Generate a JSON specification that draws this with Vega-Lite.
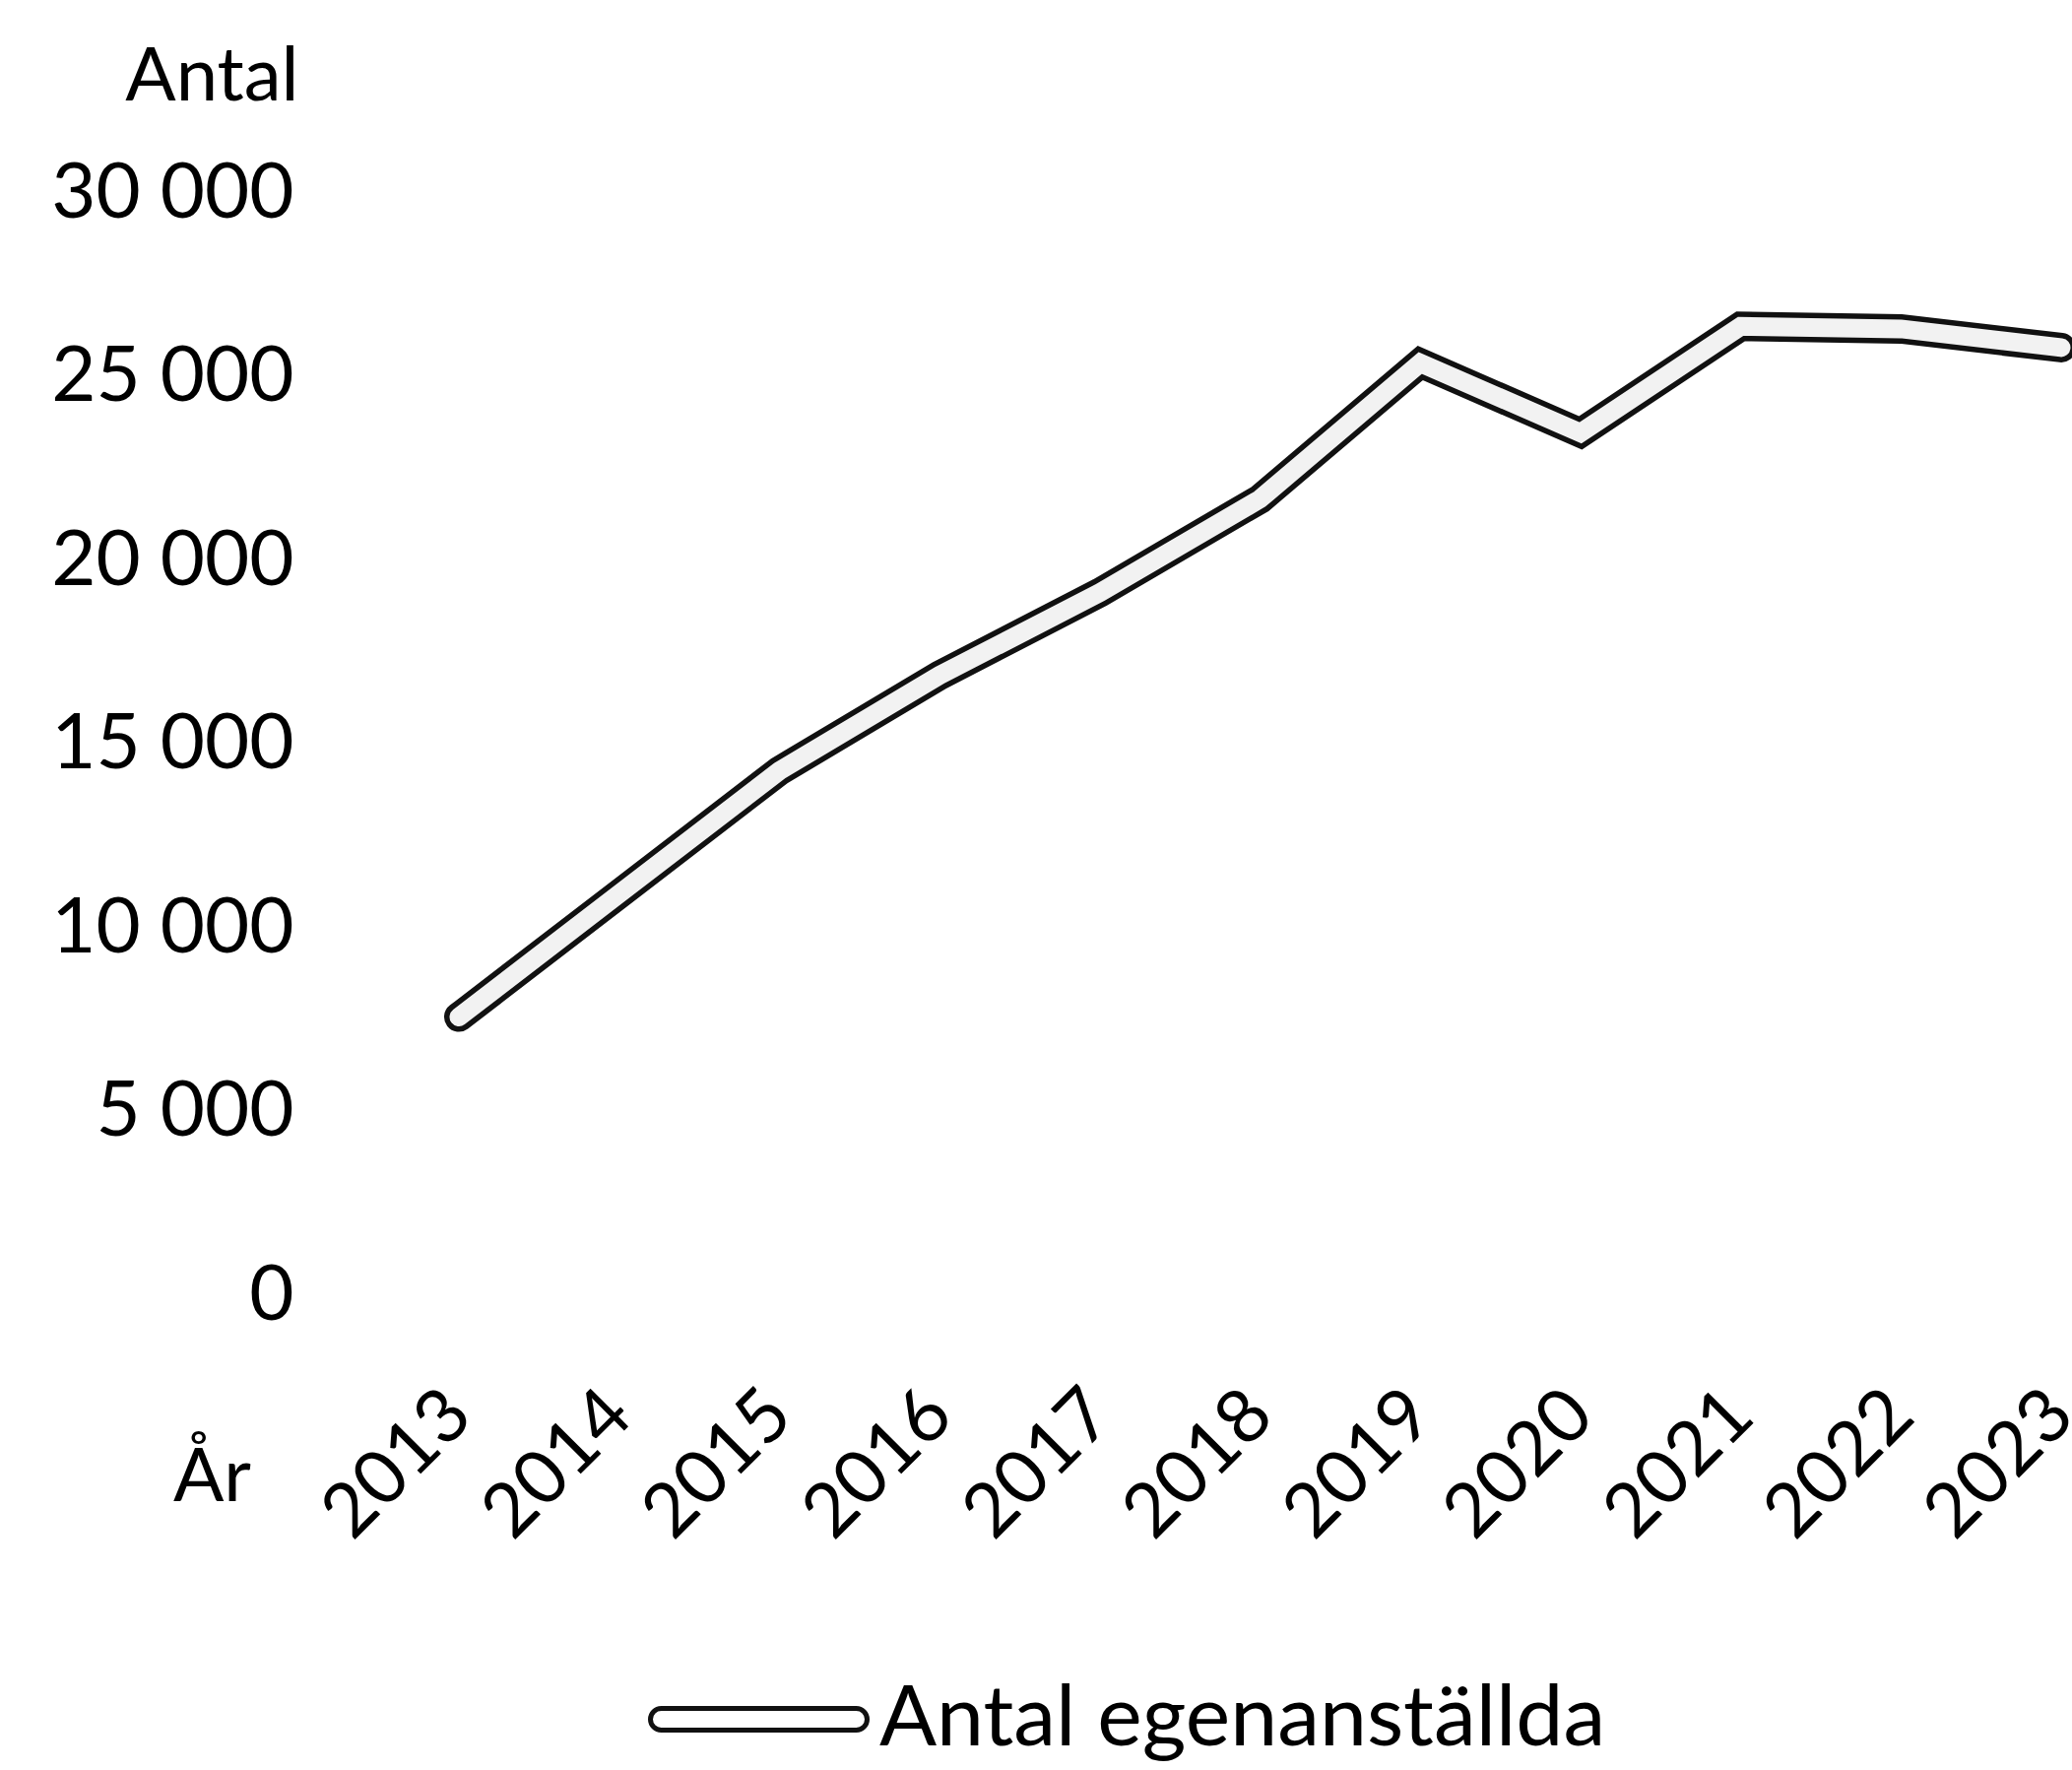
{
  "$schema": "https://vega.github.io/schema/vega-lite/v6.json",
  "width": 1627,
  "height": 1119,
  "autosize": {"type": "none"},
  "padding": {"left": 466, "top": 197, "right": 11, "bottom": 481},
  "background": "white",
  "config": {"view": {"stroke": null}, "font": "Lato"},
  "data": {
    "values": [
      {"year": "2013", "antal": 7600},
      {"year": "2014", "antal": 10950},
      {"year": "2015", "antal": 14300},
      {"year": "2016", "antal": 16900},
      {"year": "2017", "antal": 19150},
      {"year": "2018", "antal": 21700},
      {"year": "2019", "antal": 25400},
      {"year": "2020", "antal": 23500},
      {"year": "2021", "antal": 26400},
      {"year": "2022", "antal": 26330},
      {"year": "2023", "antal": 25820}
    ]
  },
  "encoding": {
    "x": {
      "field": "year",
      "type": "ordinal",
      "scale": {"type": "point", "padding": 0},
      "axis": {
        "title": "År",
        "titleAngle": 0,
        "titleX": -251,
        "titleY": 184,
        "titleAlign": "center",
        "titleBaseline": "middle",
        "titleFontSize": 76,
        "titleFontWeight": "normal",
        "titleColor": "black",
        "labelAngle": -45,
        "labelAlign": "right",
        "labelBaseline": "middle",
        "labelPadding": 108,
        "labelFontSize": 76,
        "labelColor": "black",
        "labelLimit": 400,
        "ticks": false,
        "domain": false,
        "grid": false
      }
    },
    "y": {
      "field": "antal",
      "type": "quantitative",
      "scale": {"domain": [0, 30000]},
      "axis": {
        "title": "Antal",
        "titleAngle": 0,
        "titleAlign": "right",
        "titleBaseline": "middle",
        "titleX": -163,
        "titleY": -119,
        "titleFontSize": 76,
        "titleFontWeight": "normal",
        "titleColor": "black",
        "values": [0, 5000, 10000, 15000, 20000, 25000, 30000],
        "labelExpr": "replace(format(datum.value, ',d'), ',', ' ')",
        "labelFontSize": 78,
        "labelColor": "black",
        "labelLimit": 400,
        "labelPadding": 168,
        "ticks": false,
        "domain": false,
        "grid": false
      }
    }
  },
  "layer": [
    {
      "mark": {"type": "line", "strokeWidth": 30, "strokeCap": "round", "strokeJoin": "miter"},
      "encoding": {
        "color": {
          "datum": "Antal egenanställda",
          "type": "nominal",
          "scale": {"range": ["#111111"]},
          "legend": {
            "orient": "none",
            "legendX": 192,
            "legendY": 1436,
            "title": null,
            "symbolType": "M-0.9,-0.1L0.9,-0.1A0.1,0.1 0 0 1 0.9,0.1L-0.9,0.1A0.1,0.1 0 0 1 -0.9,-0.1Z",
            "symbolSize": 48400,
            "symbolStrokeWidth": 5,
            "labelFontSize": 86,
            "labelLimit": 1500,
            "labelOffset": 10,
            "labelColor": "black",
            "encode": {
              "symbols": {
                "update": {
                  "fill": {"value": "white"},
                  "stroke": {"value": "black"},
                  "strokeWidth": {"value": 5}
                }
              }
            }
          }
        }
      }
    },
    {
      "mark": {"type": "line", "strokeWidth": 19, "strokeCap": "round", "strokeJoin": "miter", "color": "#f2f2f2"},
      "encoding": {}
    }
  ]
}
